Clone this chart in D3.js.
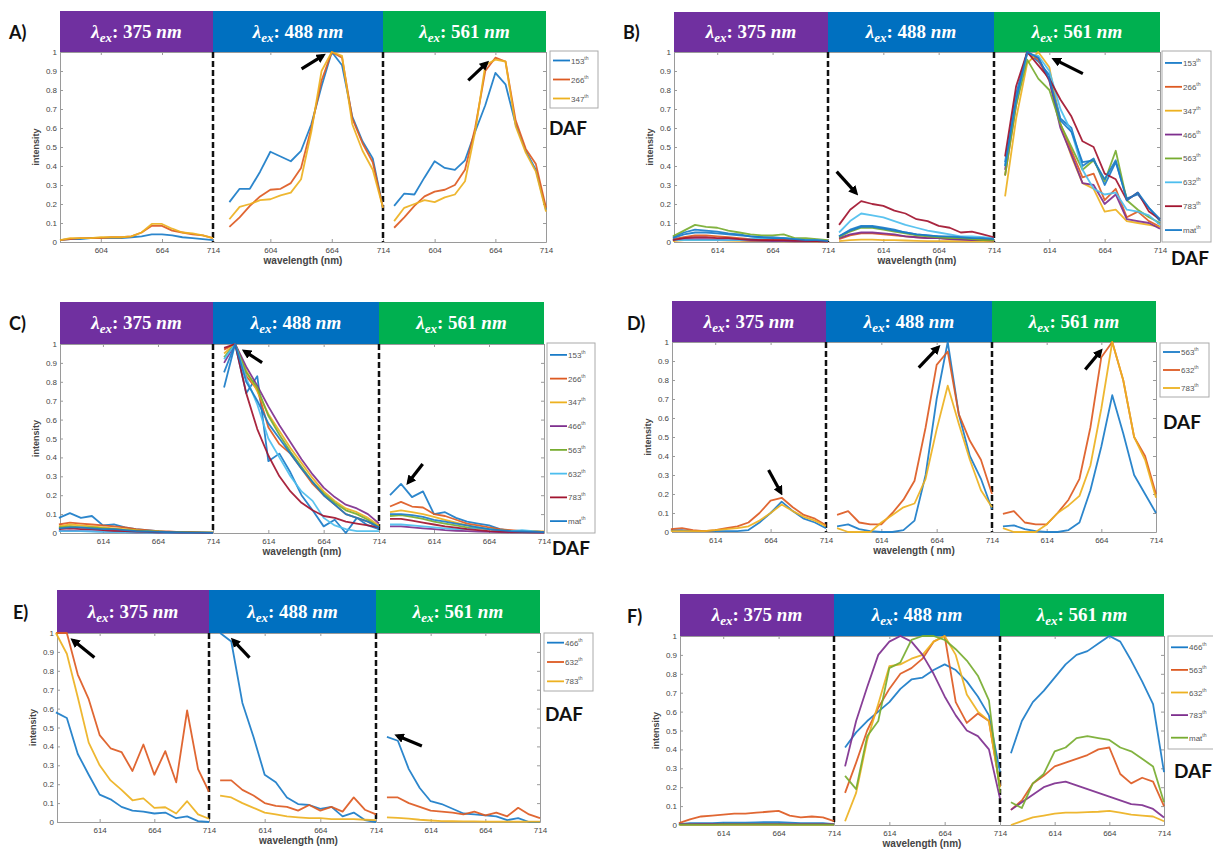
<!DOCTYPE html>
<html>
<head>
<meta charset="utf-8">
<script src="https://cdn.jsdelivr.net/npm/d3@7"></script>
<style>
body { margin: 0; background: #fff; }
svg { display: block; }
</style>
</head>
<body>
<script>
// wavelength channels (nm)
var wlA = [564,574,584,594,604,614,624,634,644,654,664,674,684,694,704,714]
var wl = [574,584,594,604,614,624,634,644,654,664,674,684,694,704,714]
var excitations = ["375", "488", "561"]
var yTicks = [0,0.1,0.2,0.3,0.4,0.5,0.6,0.7,0.8,0.9,1]

// ---- panel A
var A_labels = ["153","266","347"]
var A_375 = [
  [0.01,0.015,0.015,0.02,0.02,0.02,0.02,0.025,0.03,0.04,0.04,0.035,0.025,0.02,0.015,0.01],
  [0.01,0.015,0.02,0.02,0.02,0.025,0.025,0.03,0.05,0.085,0.085,0.06,0.05,0.04,0.035,0.02],
  [0.01,0.02,0.02,0.02,0.025,0.025,0.025,0.03,0.05,0.095,0.095,0.07,0.05,0.045,0.035,0.02]]
var A_488 = [
  [0.21,0.28,0.28,0.37,0.475,0.45,0.425,0.48,0.62,0.82,1.0,0.93,0.66,0.53,0.44,0.18],
  [0.08,0.13,0.19,0.24,0.275,0.28,0.31,0.39,0.6,0.85,1.0,0.97,0.65,0.52,0.42,0.18],
  [0.12,0.185,0.2,0.22,0.225,0.245,0.26,0.33,0.58,0.9,1.0,0.98,0.62,0.48,0.38,0.18]]
var A_561 = [
  [0.19,0.255,0.25,0.34,0.425,0.39,0.38,0.43,0.58,0.72,0.89,0.83,0.62,0.48,0.38,0.17],
  [0.075,0.13,0.19,0.24,0.265,0.275,0.3,0.38,0.6,0.9,0.97,0.95,0.64,0.49,0.41,0.18],
  [0.11,0.18,0.2,0.22,0.21,0.235,0.25,0.32,0.58,0.93,0.96,0.95,0.61,0.47,0.37,0.16]]

// ---- panel B
var B_labels = ["153","266","347","466","563","632","783","mat"]
var B_375 = [
  [0.025,0.05,0.065,0.06,0.055,0.045,0.04,0.03,0.025,0.025,0.02,0.015,0.01,0.01,0.005],
  [0.015,0.025,0.035,0.035,0.03,0.025,0.02,0.015,0.012,0.01,0.01,0.008,0.006,0.005,0.004],
  [0.005,0.01,0.01,0.01,0.01,0.008,0.006,0.005,0.005,0.005,0.004,0.003,0.003,0.002,0.002],
  [0.01,0.015,0.015,0.015,0.012,0.01,0.01,0.008,0.006,0.005,0.005,0.004,0.003,0.003,0.002],
  [0.03,0.06,0.09,0.08,0.075,0.06,0.05,0.04,0.035,0.035,0.04,0.02,0.02,0.015,0.01],
  [0.01,0.01,0.01,0.01,0.01,0.01,0.01,0.015,0.02,0.02,0.02,0.015,0.01,0.01,0.005],
  [0.01,0.02,0.025,0.025,0.02,0.02,0.015,0.012,0.01,0.01,0.01,0.008,0.006,0.005,0.004],
  [0.02,0.04,0.05,0.05,0.045,0.04,0.035,0.03,0.025,0.02,0.02,0.015,0.01,0.01,0.005]]
var B_488 = [
  [0.03,0.065,0.085,0.085,0.075,0.065,0.05,0.04,0.035,0.03,0.025,0.02,0.02,0.015,0.01],
  [0.015,0.035,0.045,0.045,0.04,0.035,0.03,0.025,0.02,0.02,0.015,0.015,0.01,0.01,0.008],
  [0.005,0.01,0.012,0.012,0.01,0.01,0.008,0.006,0.005,0.005,0.004,0.004,0.003,0.003,0.002],
  [0.02,0.04,0.05,0.05,0.045,0.04,0.03,0.025,0.02,0.02,0.015,0.012,0.01,0.01,0.008],
  [0.025,0.055,0.075,0.075,0.065,0.055,0.045,0.035,0.03,0.025,0.02,0.02,0.015,0.01,0.01],
  [0.05,0.11,0.15,0.14,0.13,0.11,0.09,0.075,0.06,0.05,0.04,0.03,0.03,0.025,0.02],
  [0.09,0.17,0.215,0.2,0.19,0.165,0.15,0.12,0.11,0.085,0.075,0.05,0.055,0.04,0.025],
  [0.03,0.06,0.08,0.08,0.07,0.06,0.05,0.04,0.035,0.03,0.03,0.025,0.02,0.02,0.015]]
var B_561 = [
  [0.42,0.78,1.0,0.95,0.88,0.65,0.6,0.4,0.44,0.3,0.42,0.23,0.25,0.18,0.11],
  [0.35,0.72,1.0,0.96,0.85,0.62,0.48,0.34,0.36,0.22,0.28,0.13,0.16,0.11,0.08],
  [0.24,0.65,0.94,1.0,0.92,0.62,0.45,0.31,0.28,0.16,0.17,0.11,0.1,0.09,0.08],
  [0.38,0.74,1.0,0.97,0.85,0.6,0.46,0.31,0.3,0.2,0.25,0.12,0.11,0.1,0.07],
  [0.35,0.72,0.96,0.86,0.8,0.62,0.5,0.38,0.43,0.32,0.48,0.22,0.17,0.13,0.1],
  [0.4,0.75,0.99,0.98,0.9,0.7,0.58,0.38,0.28,0.25,0.26,0.17,0.16,0.14,0.09],
  [0.45,0.82,1.0,0.93,0.86,0.75,0.66,0.53,0.5,0.36,0.33,0.22,0.26,0.16,0.12],
  [0.4,0.75,1.0,0.97,0.86,0.64,0.58,0.42,0.43,0.33,0.43,0.22,0.26,0.18,0.12]]

// ---- panel C
var C_labels = ["153","266","347","466","563","632","783","mat"]
var C_375 = [
  [0.08,0.105,0.08,0.09,0.04,0.045,0.03,0.02,0.015,0.01,0.005,0.005,0.003,0.003,0.002],
  [0.045,0.055,0.05,0.045,0.04,0.035,0.03,0.02,0.015,0.01,0.008,0.005,0.004,0.003,0.002],
  [0.035,0.045,0.04,0.035,0.03,0.025,0.02,0.015,0.01,0.008,0.005,0.004,0.003,0.002,0.002],
  [0.01,0.012,0.01,0.01,0.008,0.006,0.005,0.004,0.003,0.002,0.002,0.001,0.001,0.001,0.001],
  [0.03,0.035,0.03,0.03,0.025,0.02,0.015,0.012,0.01,0.007,0.005,0.004,0.003,0.002,0.002],
  [0.01,0.01,0.01,0.008,0.006,0.005,0.004,0.003,0.002,0.002,0.001,0.001,0.001,0.001,0.001],
  [0.02,0.025,0.02,0.02,0.015,0.012,0.01,0.008,0.006,0.004,0.003,0.002,0.002,0.001,0.001],
  [0.025,0.03,0.03,0.025,0.02,0.02,0.015,0.01,0.008,0.006,0.004,0.003,0.002,0.002,0.001]]
var C_488 = [
  [0.77,1.0,0.74,0.83,0.38,0.42,0.32,0.2,0.12,0.035,0.07,0.0,0.08,0.04,0.02],
  [0.97,1.0,0.83,0.76,0.56,0.47,0.42,0.34,0.26,0.2,0.15,0.1,0.08,0.06,0.03],
  [0.95,1.0,0.86,0.75,0.63,0.54,0.45,0.37,0.29,0.22,0.17,0.13,0.11,0.08,0.04],
  [0.9,1.0,0.88,0.78,0.67,0.57,0.48,0.39,0.31,0.24,0.19,0.15,0.13,0.1,0.05],
  [0.93,1.0,0.85,0.77,0.62,0.52,0.43,0.35,0.27,0.21,0.16,0.12,0.1,0.07,0.03],
  [0.92,1.0,0.82,0.68,0.5,0.4,0.3,0.22,0.17,0.08,0.04,0.02,0.01,0.01,0.01],
  [0.98,1.0,0.74,0.55,0.41,0.3,0.22,0.16,0.12,0.09,0.08,0.06,0.05,0.04,0.03],
  [0.85,1.0,0.8,0.7,0.58,0.5,0.42,0.34,0.27,0.2,0.15,0.1,0.08,0.06,0.03]]
var C_561 = [
  [0.2,0.26,0.19,0.22,0.1,0.11,0.08,0.06,0.05,0.04,0.02,0.01,0.01,0.01,0.005],
  [0.14,0.165,0.14,0.135,0.1,0.09,0.07,0.05,0.04,0.03,0.02,0.015,0.01,0.01,0.005],
  [0.11,0.12,0.11,0.1,0.085,0.07,0.055,0.04,0.03,0.02,0.015,0.01,0.01,0.01,0.008],
  [0.035,0.035,0.03,0.025,0.02,0.015,0.012,0.01,0.008,0.006,0.005,0.004,0.003,0.003,0.002],
  [0.09,0.095,0.085,0.075,0.06,0.05,0.04,0.03,0.025,0.02,0.012,0.01,0.008,0.006,0.005],
  [0.045,0.045,0.04,0.035,0.03,0.025,0.02,0.02,0.03,0.02,0.01,0.01,0.015,0.01,0.005],
  [0.075,0.075,0.065,0.055,0.045,0.035,0.028,0.02,0.015,0.01,0.008,0.006,0.005,0.004,0.003],
  [0.1,0.1,0.095,0.085,0.07,0.06,0.05,0.04,0.03,0.02,0.015,0.01,0.008,0.006,0.005]]

// ---- panel D
var D_labels = ["563","632","783"]
var D_375 = [
  [0.01,0.01,0.005,0.005,0.005,0.005,0.005,0.01,0.05,0.1,0.16,0.11,0.07,0.05,0.02],
  [0.015,0.02,0.01,0.005,0.01,0.02,0.03,0.05,0.1,0.165,0.18,0.13,0.09,0.07,0.035],
  [0.005,0.005,0.005,0.005,0.01,0.015,0.02,0.03,0.06,0.1,0.145,0.11,0.08,0.06,0.03]]
var D_488 = [
  [0.03,0.04,0.015,0.005,0.0,0.0,0.01,0.06,0.3,0.7,1.0,0.62,0.4,0.28,0.12],
  [0.09,0.11,0.05,0.04,0.04,0.1,0.17,0.27,0.55,0.88,0.95,0.62,0.48,0.38,0.2],
  [0.02,0.0,0.0,0.0,0.05,0.09,0.13,0.15,0.28,0.54,0.77,0.57,0.38,0.22,0.13]]
var D_561 = [
  [0.03,0.035,0.015,0.005,0.0,0.0,0.01,0.05,0.22,0.45,0.72,0.52,0.3,0.2,0.1],
  [0.095,0.11,0.05,0.04,0.04,0.1,0.17,0.28,0.55,0.92,1.0,0.8,0.5,0.4,0.2],
  [0.02,0.0,0.0,0.0,0.04,0.1,0.14,0.19,0.35,0.65,1.0,0.8,0.5,0.38,0.18]]

// ---- panel E
var E_labels = ["466","632","783"]
var E_375 = [
  [0.58,0.55,0.36,0.25,0.145,0.12,0.08,0.06,0.055,0.045,0.05,0.02,0.03,0.005,0.0],
  [1.0,1.0,0.78,0.65,0.46,0.39,0.37,0.27,0.41,0.25,0.375,0.21,0.59,0.28,0.16],
  [1.0,0.89,0.66,0.42,0.3,0.22,0.17,0.115,0.125,0.075,0.078,0.045,0.11,0.04,0.017]]
var E_488 = [
  [1.0,0.955,0.63,0.45,0.25,0.21,0.13,0.095,0.09,0.07,0.08,0.03,0.05,0.01,0.0],
  [0.22,0.22,0.17,0.14,0.1,0.085,0.08,0.06,0.09,0.06,0.08,0.055,0.13,0.065,0.04],
  [0.14,0.13,0.1,0.075,0.05,0.04,0.03,0.025,0.02,0.02,0.015,0.015,0.015,0.012,0.01]]
var E_561 = [
  [0.45,0.43,0.28,0.18,0.11,0.095,0.07,0.045,0.04,0.035,0.03,0.01,0.02,0.0,0.0],
  [0.13,0.13,0.1,0.08,0.06,0.055,0.05,0.04,0.055,0.035,0.05,0.03,0.075,0.04,0.02],
  [0.025,0.022,0.018,0.012,0.008,0.005,0.004,0.003,0.003,0.002,0.002,0.002,0.002,0.002,0.002]]

// ---- panel F
var F_labels = ["466","563","632","783","mat"]
var F_375 = [
  [0.005,0.01,0.01,0.01,0.012,0.012,0.012,0.014,0.015,0.015,0.012,0.01,0.01,0.01,0.005],
  [0.01,0.03,0.045,0.05,0.055,0.06,0.06,0.065,0.07,0.075,0.05,0.04,0.045,0.04,0.02],
  [0.002,0.002,0.002,0.002,0.002,0.002,0.002,0.002,0.002,0.002,0.002,0.002,0.002,0.002,0.002],
  [0.005,0.005,0.006,0.006,0.006,0.006,0.006,0.006,0.006,0.006,0.005,0.005,0.005,0.005,0.004],
  [0.002,0.002,0.002,0.002,0.003,0.003,0.003,0.003,0.003,0.003,0.002,0.002,0.002,0.002,0.002]]
var F_488 = [
  [0.41,0.49,0.55,0.6,0.65,0.72,0.77,0.78,0.82,0.85,0.82,0.76,0.68,0.58,0.28],
  [0.17,0.33,0.5,0.62,0.72,0.8,0.83,0.88,0.97,1.0,0.65,0.54,0.59,0.55,0.2],
  [0.02,0.17,0.45,0.64,0.84,0.85,0.88,0.9,0.97,1.0,0.9,0.69,0.6,0.55,0.2],
  [0.31,0.55,0.73,0.9,0.97,1.0,0.97,0.9,0.8,0.68,0.58,0.5,0.47,0.4,0.14],
  [0.26,0.19,0.47,0.55,0.83,0.86,0.98,1.0,1.0,0.98,0.93,0.87,0.79,0.66,0.17]]
var F_561 = [
  [0.38,0.55,0.65,0.71,0.78,0.85,0.9,0.92,0.96,1.0,0.97,0.87,0.76,0.64,0.28],
  [0.08,0.13,0.22,0.26,0.31,0.33,0.35,0.37,0.4,0.41,0.27,0.22,0.25,0.23,0.1],
  [0.0,0.02,0.04,0.05,0.06,0.065,0.065,0.068,0.07,0.075,0.065,0.055,0.05,0.045,0.02],
  [0.08,0.12,0.16,0.2,0.22,0.23,0.21,0.19,0.17,0.15,0.13,0.11,0.105,0.085,0.04],
  [0.12,0.09,0.22,0.27,0.39,0.41,0.46,0.47,0.46,0.45,0.41,0.39,0.35,0.31,0.12]]

// matlab line colors, header colours
var colors = ["#1a7cc8","#dd5a22","#edb120","#7e2f8e","#77ac30","#4dbeee","#a2142f","#1a7cc8"]
var headColors = ["#7030a0","#0070c0","#00b050"]

// layout of each panel (x: left, divider1, divider2, right)
var panels = [
  {name:"A)", lab:A_labels, sets:[A_375,A_488,A_561], wl:wlA, doms:[[564,714],[548,714],[553,714]], ticks:[604,664,714],
   x:[60,213,383,546], head:11, top:52, bot:242, leg:[550,51,48,57], daf:[568,128], pos:[9,39], xlab:"wavelength (nm)",
   arrows:[[1,655,0.98,-21,13],[2,655,0.94,-18,17]]},
  {name:"B)", lab:B_labels, sets:[B_375,B_488,B_561], wl:wl, doms:[[575,714],[564,714],[564,714]], ticks:[614,664,714],
   x:[674,828,994,1160], head:12, top:52, bot:242, leg:[1162,51,49,191], daf:[1190,258], pos:[623,39], xlab:"wavelength (nm)",
   arrows:[[1,589,0.26,-19,-21],[2,619,0.96,28,14]]},
  {name:"C)", lab:C_labels, sets:[C_375,C_488,C_561], wl:wl, doms:[[575,714],[564,714],[564,714]], ticks:[614,664,714],
   x:[60,213,379,544], head:302, top:344, bot:533, leg:[547,343,48,190], daf:[571,548], pos:[9,330], xlab:"wavelength (nm)",
   arrows:[[1,593,0.96,17,11],[2,591,0.27,14,-18]]},
  {name:"D)", lab:D_labels, sets:[D_375,D_488,D_561], wl:wl, doms:[[575,714],[564,714],[564,714]], ticks:[614,664,714],
   x:[672,826,992,1156], head:301, top:342, bot:532, leg:[1160,343,49,54], daf:[1182,422], pos:[627,330], xlab:"wavelength ( nm)",
   arrows:[[0,673,0.21,-12,-22],[1,665,0.97,-19,20],[2,663,0.95,-15,18]]},
  {name:"E)", lab:E_labels, sets:[E_375,E_488,E_561], wl:wl, doms:[[575,714],[564,714],[564,714]], ticks:[614,664,714],
   x:[57,209,376,540], head:590, top:633, bot:822, leg:[544,633,49,58], daf:[564,714], pos:[13,619], xlab:"wavelength (nm)",
   arrows:[[0,590,0.96,21,17],[1,586,0.96,16,17],[2,584,0.455,24,10]]},
  {name:"F)", lab:F_labels, sets:[F_375,F_488,F_561], wl:wl, doms:[[575,714],[564,714],[564,714]], ticks:[614,664,714],
   x:[680,834,1000,1164], head:594, top:636, bot:825, leg:[1168,636,50,113], daf:[1193,771], pos:[627,623], xlab:"wavelength (nm)",
   arrows:[]}
]

var svg = d3.select("body").append("svg").attr("width", 1213).attr("height", 850)

svg.append("defs").append("marker")
  .attr("id", "ah").attr("viewBox", "0 0 10 10")
  .attr("refX", 6).attr("refY", 5)
  .attr("markerWidth", 3).attr("markerHeight", 3)
  .attr("orient", "auto")
  .append("path").attr("d", "M0,0L10,5L0,10z").attr("fill", "#000")

var sans = "Liberation Sans, Arial, sans-serif"

panels.forEach(function(p) {
  var g = svg.append("g")
  var y = d3.scaleLinear().domain([0, 1]).range([p.bot, p.top])
  var xs = p.doms.map(function(dom, k) {
    return d3.scaleLinear().domain(dom).range([p.x[k], p.x[k + 1]])
  })

  // header boxes
  excitations.forEach(function(ex, k) {
    g.append("rect")
      .attr("x", p.x[k]).attr("y", p.head)
      .attr("width", p.x[k + 1] - p.x[k]).attr("height", p.top - p.head)
      .attr("fill", headColors[k])
    var t = g.append("text")
      .attr("x", (p.x[k] + p.x[k + 1]) / 2).attr("y", (p.head + p.top) / 2 + 6)
      .attr("text-anchor", "middle").attr("fill", "#fff")
      .attr("font-family", "Liberation Serif, DejaVu Serif, serif")
      .attr("font-weight", "bold").attr("font-size", 19)
    t.append("tspan").attr("font-style", "italic").text("λ")
    t.append("tspan").attr("font-style", "italic").attr("font-size", 13).attr("dy", 4).text("ex")
    t.append("tspan").attr("dy", -4).text(": " + ex + " ")
    t.append("tspan").attr("font-style", "italic").text("nm")
  })

  // axes
  var yAxis = d3.axisLeft(y).tickValues(yTicks).tickFormat(d3.format("")).tickSizeInner(-3).tickSizeOuter(0).tickPadding(3)
  g.append("g").attr("transform", "translate(" + p.x[0] + ",0)").call(yAxis)
  g.append("g").attr("transform", "translate(" + p.x[3] + ",0)")
    .call(d3.axisRight(y).tickValues(yTicks).tickFormat("").tickSizeInner(-3).tickSizeOuter(0))
  xs.forEach(function(xk) {
    g.append("g").attr("transform", "translate(0," + p.bot + ")")
      .call(d3.axisBottom(xk).tickValues(p.ticks).tickFormat(d3.format("d")).tickSizeInner(-3).tickSizeOuter(0).tickPadding(5))
    g.append("g").attr("transform", "translate(0," + p.top + ")")
      .call(d3.axisTop(xk).tickValues(p.ticks).tickFormat("").tickSizeInner(-3).tickSizeOuter(0))
  })
  g.selectAll(".domain").attr("stroke", "#9a9a9a")
  g.selectAll(".tick line").attr("stroke", "#9a9a9a")
  g.selectAll(".tick text").attr("fill", "#444").attr("font-size", 8).attr("font-family", sans)

  // dashed separators
  ;[1, 2].forEach(function(k) {
    g.append("line")
      .attr("x1", p.x[k]).attr("x2", p.x[k])
      .attr("y1", p.top).attr("y2", p.bot)
      .attr("stroke", "#111").attr("stroke-width", 2.5)
      .attr("stroke-dasharray", "6,3")
  })

  // spectra
  p.sets.forEach(function(set, k) {
    var line = d3.line()
      .x(function(d, i) { return xs[k](p.wl[i]) })
      .y(function(d) { return y(d) })
    set.forEach(function(vals, i) {
      g.append("path").datum(vals)
        .attr("fill", "none")
        .attr("stroke", colors[i])
        .attr("stroke-width", 1.8)
        .attr("stroke-linejoin", "round")
        .attr("opacity", 0.92)
        .attr("d", line)
    })
  })

  // axis titles
  g.append("text")
    .attr("transform", "translate(" + (p.x[0] - 21) + "," + ((p.top + p.bot) / 2) + ") rotate(-90)")
    .attr("text-anchor", "middle").attr("font-family", sans).attr("font-weight", "bold")
    .attr("font-size", 9).attr("fill", "#444").text("intensity")
  g.append("text")
    .attr("x", (p.x[0] + p.x[3]) / 2).attr("y", p.bot + 22)
    .attr("text-anchor", "middle").attr("font-family", sans).attr("font-weight", "bold")
    .attr("font-size", 10).attr("fill", "#444").text(p.xlab)

  // legend
  var L = p.leg
  g.append("rect").attr("x", L[0]).attr("y", L[1]).attr("width", L[2]).attr("height", L[3])
    .attr("fill", "#fff").attr("stroke", "#aaa")
  var step = L[3] / p.lab.length
  p.lab.forEach(function(lb, i) {
    var yy = L[1] + step * (i + 0.5)
    g.append("line").attr("x1", L[0] + 3).attr("x2", L[0] + 20).attr("y1", yy).attr("y2", yy)
      .attr("stroke", colors[i]).attr("stroke-width", 1.8)
    var t = g.append("text").attr("x", L[0] + 21).attr("y", yy + 3)
      .attr("font-family", sans).attr("font-size", 8).attr("fill", "#555")
    t.append("tspan").text(lb)
    t.append("tspan").attr("font-size", 5).attr("dy", -4).text("th")
  })

  // DAF and panel letter
  g.append("text").attr("x", p.daf[0]).attr("y", p.daf[1] + 7)
    .attr("text-anchor", "middle").attr("font-family", "Lato, Open Sans, sans-serif")
    .attr("font-weight", "bold").attr("font-size", 19).attr("fill", "#111").text("DAF")
  g.append("text").attr("x", p.pos[0]).attr("y", p.pos[1])
    .attr("font-family", "Lato, Open Sans, sans-serif")
    .attr("font-weight", "bold").attr("font-size", 18).attr("fill", "#111").text(p.name)

  // arrows (head at a data point, tail offset in px)
  p.arrows.forEach(function(a) {
    var hx = xs[a[0]](a[1]), hy = y(a[2])
    g.append("line")
      .attr("x1", hx + a[3]).attr("y1", hy + a[4])
      .attr("x2", hx).attr("y2", hy)
      .attr("stroke", "#000").attr("stroke-width", 3.2)
      .attr("marker-end", "url(#ah)")
  })
})
</script>
</body>
</html>
